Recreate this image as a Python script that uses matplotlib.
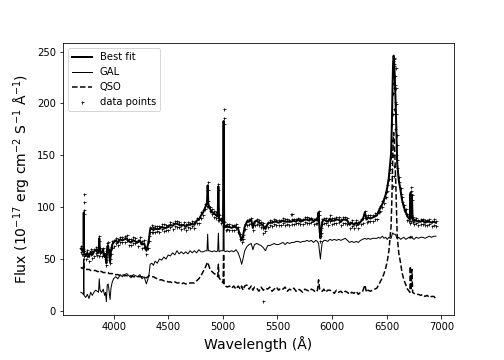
import matplotlib
matplotlib.use("Agg")
import matplotlib.pyplot as plt

wave = [3700, 3715, 3724, 3727, 3730, 3745, 3760, 3775, 3790, 3805,
        3820, 3835, 3850, 3862, 3869, 3876, 3890, 3905, 3918, 3926,
        3934, 3942, 3950, 3958, 3968, 3976, 3988, 4000, 4020, 4040,
        4060, 4080, 4100, 4120, 4140, 4160, 4180, 4200, 4220, 4240,
        4260, 4280, 4300, 4315, 4325, 4335, 4350, 4365, 4380, 4400,
        4420, 4440, 4460, 4480, 4500, 4520, 4540, 4560, 4580, 4600,
        4620, 4640, 4660, 4680, 4700, 4720, 4740, 4760, 4780, 4800,
        4820, 4840, 4855, 4861, 4867, 4880, 4900, 4920, 4940, 4953,
        4959, 4965, 4980, 5002, 5007, 5012, 5025, 5040, 5060, 5080,
        5100, 5120, 5140, 5160, 5172, 5184, 5200, 5220, 5240, 5260,
        5275, 5290, 5310, 5330, 5350, 5370, 5390, 5410, 5430, 5450,
        5470, 5490, 5510, 5530, 5550, 5570, 5590, 5610, 5630, 5650,
        5670, 5690, 5710, 5730, 5750, 5770, 5790, 5810, 5830, 5850,
        5866, 5876, 5886, 5893, 5900, 5910, 5925, 5940, 5960, 5980,
        6000, 6020, 6040, 6060, 6080, 6100, 6120, 6140, 6160, 6180,
        6200, 6220, 6240, 6260, 6280, 6300, 6315, 6330, 6350, 6370,
        6390, 6410, 6425, 6440, 6460, 6475, 6490, 6505, 6520, 6530,
        6540, 6548, 6553, 6558, 6563, 6568, 6575, 6583, 6590, 6596,
        6610, 6627, 6640, 6657, 6675, 6690, 6705, 6712, 6716, 6722,
        6731, 6737, 6750, 6770, 6790, 6810, 6830, 6850, 6870, 6890,
        6910, 6930, 6950]

best_fit = [60, 58, 57, 95, 56, 53, 56, 52, 57, 54,
            57, 59, 57, 56, 70, 58, 56, 58, 52, 55,
            46, 62, 63, 56, 47, 58, 64, 66, 68, 66,
            69, 68, 69, 70, 67, 66, 68, 67, 66, 68,
            64, 65, 58, 64, 70, 79, 79, 78, 79, 79,
            79, 81, 80, 80, 81, 83, 82, 84, 84, 83,
            82, 83, 81, 83, 83, 84, 83, 87, 88, 92,
            95, 100, 104, 121, 103, 99, 95, 94, 92, 91,
            120, 89, 88, 85, 183, 83, 81, 81, 81, 80,
            81, 81, 79, 72, 68, 72, 81, 86, 86, 88,
            80, 86, 87, 85, 84, 82, 79, 84, 85, 85,
            86, 86, 85, 86, 87, 86, 86, 86, 86, 87,
            86, 88, 86, 87, 88, 88, 87, 89, 86, 88,
            87, 95, 77, 70, 78, 86, 88, 87, 86, 89,
            87, 87, 88, 88, 86, 88, 88, 87, 83, 85,
            83, 85, 83, 86, 88, 95, 88, 90, 89, 90,
            91, 92, 96, 99, 103, 107, 112, 119, 129, 141,
            152, 185, 215, 238, 246, 240, 222, 195, 165, 142,
            126, 116, 107, 100, 95, 91, 89, 88, 113, 90,
            110, 88, 87, 87, 86, 86, 87, 85, 86, 86,
            85, 86, 85]

gal = [18, 17, 16, 45, 15, 13, 16, 12, 18, 15,
       18, 20, 19, 18, 31, 20, 18, 21, 15, 18,
       9, 25, 26, 20, 11, 22, 28, 31, 33, 31,
       35, 33, 35, 36, 34, 32, 35, 34, 33, 35,
       31, 33, 26, 31, 36, 45, 46, 44, 48, 46,
       50, 49, 52, 50, 54, 53, 56, 54, 58, 55,
       57, 55, 57, 55, 58, 56, 58, 56, 59, 57,
       57, 58, 58, 74, 58, 58, 57, 58, 57, 58,
       75, 57, 58, 58, 128, 58, 57, 58, 57, 58,
       57, 59, 56, 50, 45, 50, 58, 62, 64, 65,
       59, 64, 65, 64, 63, 61, 58, 63, 63, 64,
       65, 64, 64, 65, 66, 64, 66, 65, 66, 66,
       67, 67, 66, 67, 67, 68, 67, 68, 66, 68,
       67, 65, 56, 50, 58, 66, 68, 68, 67, 69,
       68, 69, 68, 69, 68, 69, 70, 68, 66, 67,
       66, 67, 66, 68, 69, 70, 69, 70, 69, 70,
       70, 70, 71, 70, 72, 70, 71, 69, 71, 70,
       70, 73, 75, 75, 74, 74, 74, 73, 71, 70,
       71, 69, 70, 71, 69, 70, 71, 70, 72, 70,
       72, 70, 69, 71, 70, 71, 71, 70, 71, 72,
       71, 72, 72]

qso = [42, 41, 41, 50, 41, 40, 40, 40, 39, 39,
       39, 39, 38, 38, 39, 38, 38, 37, 37, 37,
       37, 37, 37, 36, 36, 36, 36, 35, 35, 35,
       34, 35, 34, 34, 33, 34, 33, 33, 33, 33,
       33, 32, 32, 33, 34, 34, 33, 33, 32, 31,
       30, 30, 29, 29, 28, 28, 27, 28, 27, 27,
       26, 27, 26, 26, 27, 27, 27, 29, 31, 34,
       38, 42, 46, 47, 45, 41, 38, 36, 35, 33,
       45, 32, 30, 27, 55, 25, 24, 23, 24, 22,
       24, 21, 24, 21, 24, 20, 24, 25, 21, 24,
       20, 23, 22, 19, 23, 20, 22, 21, 23, 19,
       21, 23, 20, 22, 21, 23, 19, 21, 20, 22,
       19, 21, 20, 18, 21, 20, 19, 21, 20, 18,
       20, 30, 21, 20, 20, 19, 21, 18, 20, 20,
       19, 17, 20, 18, 19, 17, 19, 18, 16, 18,
       17, 19, 16, 18, 19, 25, 18, 20, 19, 20,
       21, 22, 25, 28, 32, 36, 41, 48, 58, 70,
       82, 112, 140, 163, 172, 166, 148, 122, 94, 72,
       56, 46, 37, 30, 25, 21, 19, 18, 43, 20,
       40, 18, 17, 16, 16, 15, 16, 14, 15, 13,
       14, 14, 12]

data_flux = [57, 61, 55, 93, 58, 50, 59, 48, 55, 58,
             53, 62, 54, 59, 72, 56, 60, 55, 50, 58,
             44, 60, 66, 54, 46, 62, 61, 68, 70, 64,
             71, 66, 72, 68, 69, 64, 71, 65, 68, 66,
             67, 62, 60, 61, 72, 81, 83, 76, 82, 77,
             82, 79, 84, 78, 83, 81, 85, 82, 87, 81,
             84, 80, 84, 81, 85, 82, 86, 85, 90, 90,
             97, 98, 106, 124, 101, 100, 93, 96, 90, 93,
             122, 88, 90, 87, 180, 81, 83, 79, 84, 78,
             83, 80, 81, 74, 66, 73, 79, 88, 84, 90,
             78, 87, 89, 83, 86, 80, 77, 86, 83, 87,
             84, 88, 83, 88, 85, 89, 84, 88, 84, 89,
             85, 90, 84, 89, 86, 91, 85, 90, 84, 90,
             85, 96, 78, 72, 80, 84, 90, 85, 88, 87,
             90, 85, 91, 86, 89, 85, 91, 84, 86, 82,
             85, 83, 86, 84, 90, 96, 86, 92, 87, 92,
             89, 94, 95, 101, 100, 109, 110, 121, 127, 143,
             155, 180, 220, 234, 244, 243, 218, 199, 160, 145,
             124, 118, 105, 102, 93, 93, 87, 90, 115, 92,
             112, 86, 89, 85, 88, 84, 89, 83, 88, 84,
             87, 83, 87]

data_flux2 = [63, 55, 60, 97, 53, 56, 53, 55, 60, 51,
              60, 56, 60, 53, 67, 61, 53, 61, 55, 52,
              49, 65, 60, 59, 50, 55, 67, 63, 65, 69,
              66, 71, 66, 73, 64, 69, 65, 70, 63, 71,
              61, 68, 55, 67, 67, 76, 76, 81, 76, 82,
              76, 84, 77, 83, 78, 86, 79, 87, 81, 86,
              79, 86, 78, 86, 80, 87, 80, 90, 85, 95,
              92, 103, 101, 117, 106, 96, 98, 91, 95, 88,
              117, 92, 85, 82, 186, 86, 78, 84, 78, 83,
              78, 84, 76, 69, 71, 69, 84, 83, 89, 85,
              83, 83, 84, 88, 81, 85, 82, 81, 88, 82,
              89, 83, 88, 83, 90, 83, 89, 83, 89, 84,
              89, 85, 89, 84, 91, 85, 90, 86, 89, 85,
              90, 92, 74, 67, 75, 89, 85, 90, 83, 92,
              84, 90, 85, 91, 83, 91, 85, 90, 80, 88,
              80, 88, 80, 89, 85, 92, 91, 87, 92, 87,
              94, 89, 99, 96, 106, 104, 115, 116, 133, 137,
              148, 190, 210, 241, 238, 236, 226, 190, 170, 138,
              129, 113, 110, 97, 98, 88, 92, 85, 110, 87,
              107, 91, 84, 90, 83, 89, 84, 88, 83, 89,
              82, 89, 82]

extra_wave = [3729, 3731, 5007, 5364, 5366, 5620, 5632,
              6546, 6551, 6556, 6561, 6566, 6571, 6577, 6585,
              6555, 6560, 6565, 6570,
              6579, 6580, 6581, 6582, 6720, 6722, 6724]
extra_flux = [113, 105, 195, 10, 75, 93, 93,
              130, 165, 190, 210, 215, 195, 175, 150,
              120, 150, 130, 140,
              190, 201, 234, 215, 119, 116, 113]

fig = plt.figure(figsize=(7, 5), dpi=72)
ax = fig.add_axes([0.125, 0.125, 0.775, 0.755])

ax.plot(wave, best_fit, color='black', lw=2, label='Best fit')
ax.plot(wave, gal, color='black', lw=1, label='GAL')
ax.plot(wave, qso, color='black', lw=1.5, ls='--', label='QSO')
ax.plot(wave + wave + extra_wave, data_flux + data_flux2 + extra_flux,
        ls='none', marker='+', ms=3, mew=0.8, color='black',
        label='data points')

ax.set_xlim(3537, 7112)
ax.set_ylim(-3.9, 258)
ax.set_xlabel('Wavelength (Å)', fontsize=14)
ax.set_ylabel('Flux ($10^{-17}$ erg cm$^{-2}$ S$^{-1}$ Å$^{-1}$)', fontsize=14)
ax.legend(loc='upper left', fontsize=10)

fig.savefig('out.png', dpi=72)
